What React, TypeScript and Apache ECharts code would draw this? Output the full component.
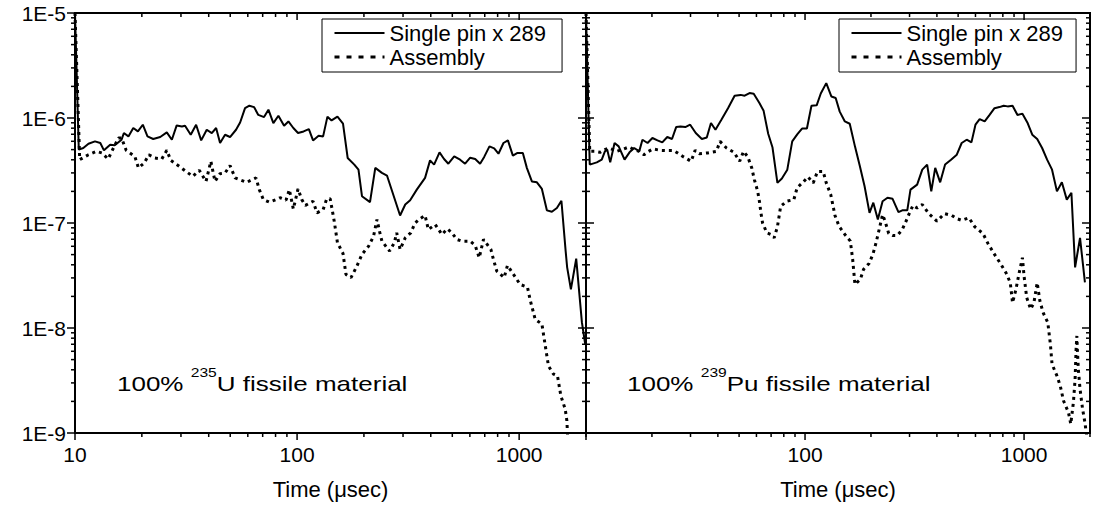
import React, { useEffect, useRef } from "react";
import * as echarts from "echarts";

const FONT = "'Liberation Sans', Arial, Helvetica, sans-serif";

// axis extents
const X_MIN = 10;
const X_MAX = 2000;
const Y_MIN = 1e-9;
const Y_MAX = 1e-5;

// tick values
const xDecades = [10, 100, 1000];
const yDecades = [1e-9, 1e-8, 1e-7, 1e-6, 1e-5];
const minorMultipliers = [2, 3, 4, 5, 6, 7, 8, 9];

// legend / text
const seriesNames = ["Single pin x 289", "Assembly"];
const axisTitle = "Time (\u03bcsec)";
const panelIsotopes = ["235", "239"];
const panelElements = ["U", "Pu"];

// data: [time (usec), value]
const u235Pin = [
  [10, 1e-5], [10.4, 5.0e-7], [10.9, 5.18e-7], [11.5, 5.69e-7], [12.3, 5.99e-7], [13.0, 5.78e-7],
  [13.5, 4.92e-7], [14.4, 5.57e-7], [15.1, 5.49e-7], [16.2, 6.21e-7], [16.6, 7.19e-7], [17.4, 6.68e-7],
  [18.3, 8.03e-7], [19.2, 7.45e-7], [20.2, 8.63e-7], [21.2, 6.68e-7], [22.5, 6.31e-7], [24.2, 6.59e-7],
  [25.9, 7.29e-7], [27.3, 6.21e-7], [28.7, 8.5e-7], [30.3, 8.31e-7], [31.3, 8.44e-7], [33.2, 6.93e-7],
  [35.1, 8.63e-7], [37.0, 6.12e-7], [39.2, 7.73e-7], [41.3, 7.19e-7], [43.2, 8.03e-7], [45.0, 5.78e-7],
  [47.4, 6.93e-7], [49.9, 6.59e-7], [53.1, 7.73e-7], [55.4, 9.07e-7], [58.3, 1.24e-6], [61.0, 1.31e-6],
  [64.0, 1.27e-6], [66.9, 1.07e-6], [71.0, 1.02e-6], [74.3, 1.2e-6], [78.2, 8.95e-7], [82.4, 1.05e-6],
  [87.4, 8.44e-7], [91.4, 9.27e-7], [96.2, 8.03e-7], [101, 7.19e-7], [107, 7.45e-7], [113, 7.85e-7],
  [118, 6.12e-7], [125, 6.78e-7], [131, 6.68e-7], [137, 1.03e-6], [143, 9.48e-7], [152, 1.03e-6],
  [161, 8.82e-7], [169, 4.16e-7], [181, 3.6e-7], [189, 3.22e-7], [196, 1.8e-7], [213, 1.58e-7],
  [225, 3.35e-7], [241, 3.0e-7], [254, 2.83e-7], [291, 1.18e-7], [307, 1.5e-7], [323, 1.65e-7],
  [346, 2.08e-7], [377, 2.69e-7], [397, 3.95e-7], [414, 3.6e-7], [438, 4.71e-7], [459, 4.07e-7],
  [480, 3.67e-7], [510, 4.31e-7], [542, 4.01e-7], [571, 3.67e-7], [602, 4.19e-7], [634, 4.07e-7],
  [667, 3.67e-7], [696, 4.26e-7], [735, 5.37e-7], [772, 5.14e-7], [807, 4.57e-7], [850, 5.78e-7],
  [890, 6.12e-7], [937, 4.38e-7], [983, 4.65e-7], [1039, 4.65e-7], [1083, 3.35e-7], [1141, 2.49e-7],
  [1202, 2.44e-7], [1266, 2.11e-7], [1333, 1.32e-7], [1404, 1.28e-7], [1479, 1.39e-7], [1550, 1.63e-7],
  [1620, 5.36e-8], [1645, 3.78e-8], [1710, 2.33e-8], [1807, 4.57e-8], [1917, 1.13e-8], [1984, 7.0e-9],
];

const u235Assembly = [
  [10, 1e-5], [10.5, 4.01e-7], [11.5, 4.47e-7], [12.5, 4.81e-7], [13.2, 4.65e-7], [14.1, 4.07e-7],
  [14.9, 5.18e-7], [15.7, 6.45e-7], [16.2, 6.45e-7], [17.0, 4.92e-7], [18.6, 4.31e-7], [19.3, 3.35e-7],
  [20.5, 3.73e-7], [21.5, 4.47e-7], [22.9, 4.16e-7], [24.6, 4.07e-7], [25.9, 4.92e-7], [27.0, 3.95e-7],
  [29.7, 3.42e-7], [33.9, 2.78e-7], [36.3, 3.17e-7], [38.9, 2.49e-7], [40.9, 3.87e-7], [42.7, 2.49e-7],
  [45.0, 2.95e-7], [47.4, 3.0e-7], [49.9, 3.52e-7], [52.6, 2.69e-7], [59.3, 2.44e-7], [65.3, 2.69e-7],
  [67.6, 2.08e-7], [70.5, 1.67e-7], [75.0, 1.58e-7], [80.4, 1.67e-7], [83.8, 1.74e-7], [89.2, 1.65e-7],
  [92.3, 2.08e-7], [96.2, 1.36e-7], [101, 2.11e-7], [105, 1.67e-7], [109, 1.47e-7], [118, 1.61e-7],
  [123, 1.25e-7], [131, 1.34e-7], [136, 1.7e-7], [141, 1.7e-7], [147, 1.04e-7], [152, 6.49e-8],
  [161, 5.13e-8], [166, 3.24e-8], [175, 3.02e-8], [186, 3.89e-8], [196, 5.02e-8], [210, 6.02e-8],
  [221, 7.49e-8], [229, 1.08e-7], [235, 8.36e-8], [241, 6.72e-8], [261, 5.4e-8], [274, 6.49e-8],
  [281, 8.07e-8], [291, 5.6e-8], [307, 7.23e-8], [325, 8.07e-8], [340, 1.0e-7], [358, 1.1e-7],
  [377, 1.18e-7], [390, 8.67e-8], [419, 9.67e-8], [449, 7.78e-8], [475, 8.81e-8], [498, 8.07e-8],
  [524, 6.97e-8], [552, 6.72e-8], [602, 6.72e-8], [634, 6.11e-8], [661, 4.67e-8], [691, 6.97e-8],
  [746, 5.6e-8], [766, 4.5e-8], [793, 3.48e-8], [856, 3.02e-8], [886, 3.95e-8], [943, 3.24e-8],
  [1010, 2.6e-8], [1090, 2.45e-8], [1121, 1.85e-8], [1181, 1.21e-8], [1266, 1.09e-8], [1310, 6.86e-9],
  [1355, 4.36e-9], [1427, 3.64e-9], [1488, 3.5e-9], [1541, 2.26e-9], [1612, 1.69e-9], [1640, 1.31e-9],
  [1650, 1.02e-9], [1660, 5e-10],
];

const pu239Pin = [
  [10, 1e-5], [10.4, 3.6e-7], [11.2, 3.78e-7], [11.8, 4.01e-7], [12.2, 4.81e-7], [12.5, 5.0e-7],
  [12.9, 3.78e-7], [13.5, 5.78e-7], [14.1, 5.37e-7], [15.0, 4.01e-7], [15.8, 4.71e-7], [16.6, 5.18e-7],
  [17.5, 4.81e-7], [18.1, 6.21e-7], [19.1, 5.78e-7], [20.1, 6.45e-7], [21.2, 6.12e-7], [22.3, 5.86e-7],
  [23.5, 6.59e-7], [24.7, 6.31e-7], [25.8, 8.2e-7], [27.0, 8.31e-7], [28.4, 8.2e-7], [29.9, 8.63e-7],
  [31.7, 7.19e-7], [33.8, 6.31e-7], [35.6, 6.53e-7], [37.2, 8.95e-7], [39.0, 7.73e-7], [41.5, 9.62e-7],
  [44.5, 1.24e-6], [47.7, 1.63e-6], [50.8, 1.66e-6], [53.0, 1.63e-6], [55.8, 1.73e-6], [58.3, 1.7e-6],
  [61.9, 1.39e-6], [64.7, 1.17e-6], [67.9, 7.09e-7], [71.0, 5.27e-7], [74.8, 2.41e-7], [78.4, 2.65e-7],
  [83.0, 3.22e-7], [87.4, 5.99e-7], [92.3, 7.01e-7], [96.9, 7.94e-7], [102, 7.94e-7], [107, 1.31e-6],
  [113, 1.32e-6], [118, 1.71e-6], [125, 2.15e-6], [132, 1.6e-6], [138, 1.55e-6], [144, 1.15e-6],
  [152, 9.27e-7], [160, 8.82e-7], [169, 5.37e-7], [178, 3.47e-7], [187, 2.24e-7], [197, 1.25e-7],
  [205, 1.56e-7], [215, 1.08e-7], [226, 1.61e-7], [238, 1.74e-7], [251, 1.7e-7], [267, 1.27e-7],
  [278, 1.32e-7], [293, 1.32e-7], [303, 2.08e-7], [325, 2.32e-7], [343, 3.22e-7], [361, 3.6e-7],
  [377, 2.0e-7], [393, 3.35e-7], [414, 2.44e-7], [436, 3.6e-7], [464, 4.01e-7], [493, 4.47e-7],
  [519, 5.78e-7], [547, 6.21e-7], [575, 5.86e-7], [600, 8.63e-7], [627, 9.77e-7], [661, 9.27e-7],
  [696, 1.07e-6], [733, 1.24e-6], [772, 1.27e-6], [807, 1.31e-6], [841, 1.29e-6], [886, 1.31e-6],
  [933, 1.07e-6], [983, 1.1e-6], [1035, 9.07e-7], [1090, 6.93e-7], [1148, 6.31e-7], [1209, 5.18e-7],
  [1274, 4.01e-7], [1342, 3.22e-7], [1413, 2.0e-7], [1488, 2.44e-7], [1567, 1.67e-7], [1645, 1.94e-7],
  [1710, 3.78e-8], [1801, 7.23e-8], [1896, 2.72e-8],
];

const pu239Assembly = [
  [10, 1e-5], [10.4, 4.81e-7], [11.0, 4.81e-7], [11.6, 4.71e-7], [12.2, 5.0e-7], [12.7, 5.18e-7],
  [13.3, 5.0e-7], [13.8, 4.81e-7], [14.6, 5.0e-7], [15.7, 5.3e-7], [16.6, 5.0e-7], [17.5, 4.81e-7],
  [18.4, 4.47e-7], [19.3, 4.81e-7], [20.2, 5.07e-7], [21.9, 4.92e-7], [23.5, 4.89e-7], [25.2, 4.89e-7],
  [27.9, 4.26e-7], [30.2, 3.87e-7], [31.5, 4.92e-7], [32.9, 4.57e-7], [35.9, 4.65e-7], [39.4, 4.81e-7],
  [40.9, 5.99e-7], [43.8, 5.18e-7], [47.4, 4.71e-7], [50.3, 3.87e-7], [52.4, 4.81e-7], [54.8, 4.26e-7],
  [57.1, 3.35e-7], [58.7, 2.59e-7], [60.8, 2.0e-7], [61.9, 1.61e-7], [62.9, 1.25e-7], [64.0, 1.0e-7],
  [66.9, 8.07e-8], [69.8, 7.78e-8], [72.3, 7.23e-8], [74.8, 9.2e-8], [77.4, 1.44e-7], [82.4, 1.61e-7],
  [88.9, 1.67e-7], [92.0, 2.16e-7], [98.7, 2.49e-7], [103, 2.75e-7], [109, 2.41e-7], [114, 3.1e-7],
  [121, 3.1e-7], [125, 2.41e-7], [131, 1.87e-7], [137, 1.18e-7], [143, 9.32e-8], [152, 7.78e-8],
  [161, 6.72e-8], [165, 4.5e-8], [169, 2.6e-8], [179, 2.91e-8], [185, 3.62e-8], [196, 4.12e-8],
  [204, 5.02e-8], [211, 6.49e-8], [218, 8.67e-8], [226, 1.2e-7], [232, 1.04e-7], [241, 7.95e-8],
  [251, 7.61e-8], [264, 7.61e-8], [278, 8.67e-8], [288, 1.02e-7], [300, 1.25e-7], [311, 1.47e-7],
  [325, 1.39e-7], [343, 1.5e-7], [367, 1.23e-7], [400, 1.04e-7], [433, 1.23e-7], [468, 1.18e-7],
  [493, 1.1e-7], [519, 1.06e-7], [560, 1.12e-7], [596, 9.2e-8], [649, 7.95e-8], [684, 6.39e-8],
  [733, 5.02e-8], [785, 4.03e-8], [827, 3.36e-8], [865, 2.7e-8], [886, 1.74e-8], [918, 2.33e-8],
  [950, 3.36e-8], [983, 4.67e-8], [1000, 3.12e-8], [1028, 1.95e-8], [1072, 1.51e-8], [1109, 1.74e-8],
  [1148, 2.7e-8], [1181, 1.81e-8], [1222, 1.4e-8], [1283, 1.13e-8], [1319, 7.0e-9], [1342, 4.52e-9],
  [1413, 3.5e-9], [1463, 2.81e-9], [1514, 2.03e-9], [1594, 1.57e-9], [1634, 1.22e-9], [1680, 1.96e-9],
  [1710, 3.26e-9], [1728, 6.28e-9], [1742, 8.4e-9], [1751, 6.28e-9], [1769, 4.06e-9], [1801, 2.62e-9],
  [1850, 1.69e-9], [1896, 1.26e-9], [1950, 8e-10],
];

const isPow10 = (v: number) => {
  const l = Math.log10(v);
  return Math.abs(l - Math.round(l)) < 1e-6;
};

// tick data built from the tick arrays
const xTickData: number[][] = [];
xDecades.forEach((d) => {
  xTickData.push([d, Y_MIN, 1]);
  minorMultipliers.forEach((k) => {
    if (d * k <= X_MAX) xTickData.push([d * k, Y_MIN, 0]);
  });
});
const yTickData: number[][] = [];
yDecades.forEach((d) => {
  yTickData.push([X_MIN, d, 1]);
  if (d < Y_MAX) minorMultipliers.forEach((k) => yTickData.push([X_MIN, d * k, 0]));
});

const TICK_STYLE = { stroke: "#000", lineWidth: 1.5 };

const xTickSeries = (idx: number) => ({
  type: "custom",
  xAxisIndex: idx,
  yAxisIndex: idx,
  silent: true,
  clip: false,
  z: 5,
  data: xTickData,
  renderItem: (_p: any, api: any) => {
    const v = api.value(0);
    const major = api.value(2) === 1;
    const L = major ? 7 : 4;
    const b = api.coord([v, Y_MIN]);
    const t = api.coord([v, Y_MAX]);
    return {
      type: "group",
      children: [
        { type: "line", shape: { x1: b[0], y1: b[1], x2: b[0], y2: b[1] + L }, style: TICK_STYLE },
        { type: "line", shape: { x1: t[0], y1: t[1], x2: t[0], y2: t[1] + L }, style: TICK_STYLE },
      ],
    };
  },
});

const yTickSeries = (idx: number) => ({
  type: "custom",
  xAxisIndex: idx,
  yAxisIndex: idx,
  silent: true,
  clip: false,
  z: 5,
  data: yTickData,
  renderItem: (_p: any, api: any) => {
    const v = api.value(1);
    const major = api.value(2) === 1;
    const L = major ? 8 : 4;
    const l = api.coord([X_MIN, v]);
    const r = api.coord([X_MAX, v]);
    // left panel: left axis outward; shared / right axes inward
    const leftDir = idx === 0 ? -1 : 1;
    return {
      type: "group",
      children: [
        { type: "line", shape: { x1: l[0], y1: l[1], x2: l[0] + leftDir * L, y2: l[1] }, style: TICK_STYLE },
        { type: "line", shape: { x1: r[0], y1: r[1], x2: r[0] - L, y2: r[1] }, style: TICK_STYLE },
      ],
    };
  },
});

const lineSeries = (name: string, data: number[][], idx: number, dotted: boolean) => ({
  type: "line",
  name,
  data,
  xAxisIndex: idx,
  yAxisIndex: idx,
  symbol: "none",
  showSymbol: false,
  clip: true,
  silent: true,
  z: 3,
  itemStyle: { color: "#000" },
  lineStyle: { color: "#000", width: dotted ? 3 : 2, type: dotted ? [3, 4] : "solid" },
});

const xAxis = (idx: number) => ({
  type: "log",
  logBase: 10,
  gridIndex: idx,
  min: X_MIN,
  max: X_MAX,
  axisLine: { show: false },
  axisTick: { show: false },
  splitLine: { show: false },
  minorTick: { show: false },
  axisLabel: {
    fontSize: 21,
    color: "#000",
    fontFamily: FONT,
    margin: 11,
    formatter: (v: number) => (isPow10(v) && (idx === 0 || v > X_MIN * 1.5) ? String(Math.round(v)) : ""),
  },
  name: axisTitle,
  nameLocation: "middle",
  nameGap: 45,
  nameTextStyle: { fontSize: 22, color: "#000", fontFamily: FONT },
});

const yAxis = (idx: number) => ({
  type: "log",
  logBase: 10,
  gridIndex: idx,
  min: Y_MIN,
  max: Y_MAX,
  axisLine: { show: false },
  axisTick: { show: false },
  splitLine: { show: false },
  minorTick: { show: false },
  axisLabel: {
    show: idx === 0,
    fontSize: 21,
    color: "#000",
    fontFamily: FONT,
    margin: 9,
    formatter: (v: number) => (isPow10(v) ? "1E" + Math.round(Math.log10(v)) : ""),
  },
});

const legend = (left: number, padRight: number) => ({
  left,
  top: 19,
  orient: "vertical",
  itemWidth: 50,
  itemHeight: 14,
  itemGap: 2,
  padding: [3, padRight, 4, 11],
  borderColor: "#000",
  borderWidth: 1,
  backgroundColor: "#fff",
  selectedMode: false,
  itemStyle: { color: "rgba(0,0,0,0)", borderWidth: 0, opacity: 0 },
  textStyle: { fontSize: 22, color: "#000", fontFamily: FONT },
  data: [
    { name: seriesNames[0], lineStyle: { type: "solid", width: 2, color: "#000" } },
    { name: seriesNames[1], lineStyle: { type: [5, 7], width: 3, color: "#000" } },
  ],
});

const annotation = (x: number, i: number) => ({
  type: "text",
  x,
  y: 394,
  scaleX: 1.3,
  silent: true,
  z: 10,
  style: {
    text: `{a|100% }{s|${panelIsotopes[i]}}{a|${panelElements[i]} fissile material}`,
    align: "left",
    verticalAlign: "bottom",
    fill: "#000",
    rich: {
      a: { fontSize: 20, fontFamily: FONT, fill: "#000", verticalAlign: "bottom", lineHeight: 20 },
      s: { fontSize: 12, fontFamily: FONT, fill: "#000", verticalAlign: "bottom", padding: [0, 0, 15, 0] },
    },
  },
});

const option = {
  animation: false,
  backgroundColor: "#fff",
  grid: [
    { left: 75, top: 13, width: 511, height: 421, show: true, borderColor: "#000", borderWidth: 2, containLabel: false },
    { left: 586, top: 13, width: 511, height: 421, show: true, borderColor: "#000", borderWidth: 2, containLabel: false },
  ],
  xAxis: [xAxis(0), xAxis(1)],
  yAxis: [yAxis(0), yAxis(1)],
  legend: [legend(322, 16), legend(839, 13)],
  graphic: [annotation(117, 0), annotation(627, 1)],
  series: [
    lineSeries(seriesNames[0], u235Pin, 0, false),
    lineSeries(seriesNames[1], u235Assembly, 0, true),
    lineSeries(seriesNames[0], pu239Pin, 1, false),
    lineSeries(seriesNames[1], pu239Assembly, 1, true),
    xTickSeries(0),
    yTickSeries(0),
    xTickSeries(1),
    yTickSeries(1),
  ],
};

export default function App() {
  const ref = useRef<HTMLDivElement>(null);
  useEffect(() => {
    if (!ref.current) return;
    const chart = echarts.init(ref.current, undefined, { renderer: "svg" });
    chart.setOption(option as any);
    return () => chart.dispose();
  }, []);
  return (
    <div
      ref={ref}
      style={{ position: "absolute", left: 0, top: 0, width: 1093, height: 505, background: "#fff" }}
    />
  );
}
